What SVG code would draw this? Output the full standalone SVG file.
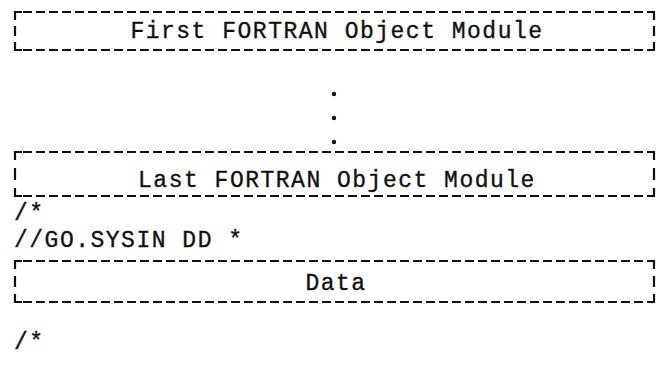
<svg xmlns="http://www.w3.org/2000/svg" width="667" height="368" viewBox="0 0 667 368">
<style>
.t{font-family:"Liberation Mono","DejaVu Sans Mono",monospace;font-size:23px;fill:#111;stroke:#111;stroke-width:0.35;letter-spacing:1.5px}
.d{stroke:#111;stroke-width:2;fill:none;stroke-dasharray:9 4}
.c{stroke:#111;stroke-width:2.2;fill:none}
</style>
<rect width="667" height="368" fill="#fff"/>
<g id="box1">
<path class="d" d="M23 12H647M23 50H647"/>
<path class="c" d="M15 20V12H22M647 12H654V20M15 42V50H22M647 50H654V42M15 26V36M654 26V36"/>
<text class="t" x="337" y="38" text-anchor="middle">First FORTRAN Object Module</text>
</g>
<g id="dots" fill="#111">
<circle cx="334" cy="94" r="2.2"/>
<circle cx="334" cy="118" r="2.2"/>
<circle cx="334" cy="142" r="2.2"/>
</g>
<g id="box2">
<path class="d" d="M23 152H647M23 196H647"/>
<path class="c" d="M15 160V152H22M647 152H654V160M15 188V196H22M647 196H654V188M15 168V180M654 168V180"/>
<text class="t" x="337" y="187" text-anchor="middle">Last FORTRAN Object Module</text>
</g>
<g id="end1"><text class="t" x="14" y="220">/*</text></g>
<g id="sysin"><text class="t" x="14" y="247">//GO.SYSIN DD *</text></g>
<g id="box3">
<path class="d" d="M23 261H647M23 302H647"/>
<path class="c" d="M15 269V261H22M647 261H654V269M15 294V302H22M647 302H654V294M15 276V287M654 276V287"/>
<text class="t" x="336" y="290" text-anchor="middle">Data</text>
</g>
<g id="end2"><text class="t" x="14" y="349">/*</text></g>
<g id="connectors"/>
</svg>
